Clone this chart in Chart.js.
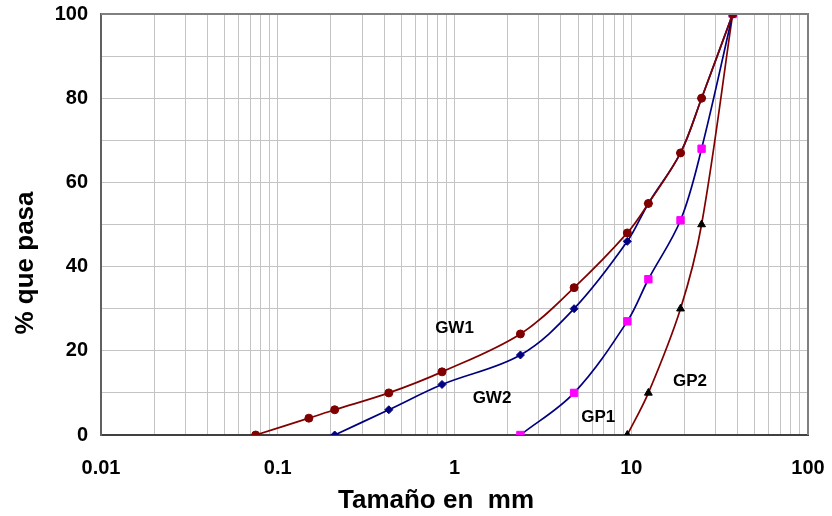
<!DOCTYPE html>
<html>
<head>
<meta charset="utf-8">
<script src="https://cdn.jsdelivr.net/npm/chart.js@4.4.1/dist/chart.umd.min.js"></script>
<style>
  html, body { margin: 0; padding: 0; background: #fff; }
  #wrap { width: 832px; height: 516px; }
</style>
</head>
<body>
<div id="wrap"><canvas id="grafico"></canvas></div>
<script>
// tamices (mm) y % que pasa de cada muestra
const tamGW1 = [0.075, 0.15, 0.21, 0.425, 0.85, 2.36, 4.75, 9.5, 12.5, 19, 25, 37.5];
const pasaGW1 = [0, 4, 6, 10, 15, 24, 35, 48, 55, 67, 80, 100];

const tamGW2 = [0.21, 0.425, 0.85, 2.36, 4.75, 9.5, 12.5, 19, 25, 37.5];
const pasaGW2 = [0, 6, 12, 19, 30, 46, 55, 67, 80, 100];

const tamGP1 = [2.36, 4.75, 9.5, 12.5, 19, 25, 37.5];
const pasaGP1 = [0, 10, 27, 37, 51, 68, 100];

const tamGP2 = [9.5, 12.5, 19, 25, 37.5];
const pasaGP2 = [0, 10, 30, 50, 100];

// etiquetas de los ejes
const xTickLabels = ["0.01", "0.1", "1", "10", "100"];
const yTickLabels = ["0", "20", "40", "60", "80", "100"];

// nombres de curva (tamaño, % que pasa donde va el texto)
const nombres = ["GW1", "GW2", "GP1", "GP2"];
const nombreX = [1.0, 1.63, 6.5, 21.5];
const nombreY = [25.4, 8.6, 4.3, 12.7];

const FONT = "'Liberation Sans', Arial, sans-serif";

function puntos(xs, ys) {
  return xs.map((x, i) => ({ x: x, y: ys[i] }));
}

// lineas de grilla 1..9 por decada
function ticksLog() {
  const t = [];
  for (let e = -2; e <= 1; e++) {
    for (let s = 1; s <= 9; s++) {
      t.push({ value: Number((s * Math.pow(10, e)).toPrecision(3)) });
    }
  }
  t.push({ value: 100 });
  return t;
}

// sin margen automatico por las etiquetas de los extremos
function sinMargen(scale) {
  scale.paddingLeft = 0;
  scale.paddingRight = 0;
  scale.paddingTop = 0;
  scale.paddingBottom = 0;
}

const textos = {
  id: "textos",
  afterDraw(chart) {
    const ctx = chart.ctx;
    const xs = chart.scales.x;
    const ys = chart.scales.y;
    ctx.save();
    ctx.fillStyle = "#000";

    // nombres de las curvas
    ctx.font = "bold 17px " + FONT;
    ctx.textAlign = "center";
    ctx.textBaseline = "middle";
    nombres.forEach((n, i) => {
      ctx.fillText(n, xs.getPixelForValue(nombreX[i]), ys.getPixelForValue(nombreY[i]));
    });

    // titulos de los ejes
    ctx.font = "bold 26px " + FONT;
    ctx.textBaseline = "alphabetic";
    ctx.fillText("Tamaño en  mm", 436, 508);

    ctx.translate(33, 263);
    ctx.rotate(-Math.PI / 2);
    ctx.fillText("% que pasa", 0, 0);
    ctx.restore();

    // marco superior y derecho
    const a = chart.chartArea;
    ctx.save();
    ctx.strokeStyle = "#808080";
    ctx.lineWidth = 2;
    ctx.beginPath();
    ctx.moveTo(a.left, a.top);
    ctx.lineTo(a.right, a.top);
    ctx.lineTo(a.right, a.bottom);
    ctx.stroke();
    ctx.restore();
  }
};

const linea = {
  borderWidth: 1.7,
  tension: 0.35,
  pointBorderWidth: 1,
  fill: false
};

new Chart(document.getElementById("grafico"), {
  type: "line",
  data: {
    datasets: [
      {
        ...linea,
        label: "GW1",
        data: puntos(tamGW1, pasaGW1),
        borderColor: "#800000",
        pointStyle: "circle",
        pointRadius: 4,
        pointBackgroundColor: "#800000",
        pointBorderColor: "#800000"
      },
      {
        ...linea,
        label: "GW2",
        data: puntos(tamGW2, pasaGW2),
        borderColor: "#000080",
        pointStyle: "rectRot",
        pointRadius: 4,
        pointBackgroundColor: "#000080",
        pointBorderColor: "#000080"
      },
      {
        ...linea,
        label: "GP1",
        data: puntos(tamGP1, pasaGP1),
        borderColor: "#000080",
        pointStyle: "rect",
        pointRadius: 5.2,
        pointBackgroundColor: "#ff00ff",
        pointBorderColor: "#ff00ff"
      },
      {
        ...linea,
        label: "GP2",
        data: puntos(tamGP2, pasaGP2),
        borderColor: "#800000",
        pointStyle: "triangle",
        pointRadius: 4.5,
        pointBackgroundColor: "#000000",
        pointBorderColor: "#000000"
      }
    ]
  },
  options: {
    responsive: true,
    maintainAspectRatio: false,
    animation: false,
    layout: { padding: { top: 14, right: 24, left: 0, bottom: 0 } },
    plugins: {
      legend: { display: false },
      tooltip: { enabled: false }
    },
    scales: {
      x: {
        type: "logarithmic",
        min: 0.01,
        max: 100,
        afterBuildTicks: scale => { scale.ticks = ticksLog(); },
        afterFit: scale => { scale.height = 81; sinMargen(scale); },
        ticks: {
          autoSkip: false,
          maxRotation: 0,
          padding: 21,
          color: "#000",
          font: { family: FONT, size: 20, weight: "bold" },
          callback: v => {
            const i = xTickLabels.findIndex(t => Math.abs(Number(t) - v) < 1e-9);
            return i >= 0 ? xTickLabels[i] : "";
          }
        },
        grid: {
          color: "#c4c4c4",
          lineWidth: 1,
          drawTicks: false
        },
        border: { color: "#404040", width: 2 }
      },
      y: {
        min: 0,
        max: 100,
        afterFit: scale => { scale.width = 101; sinMargen(scale); },
        ticks: {
          stepSize: 10,
          padding: 13,
          color: "#000",
          font: { family: FONT, size: 20, weight: "bold" },
          callback: v => yTickLabels.includes(String(v)) ? String(v) : ""
        },
        grid: {
          color: "#c4c4c4",
          lineWidth: 1,
          drawTicks: false
        },
        border: { color: "#606060", width: 2 }
      }
    }
  },
  plugins: [textos]
});
</script>
</body>
</html>
